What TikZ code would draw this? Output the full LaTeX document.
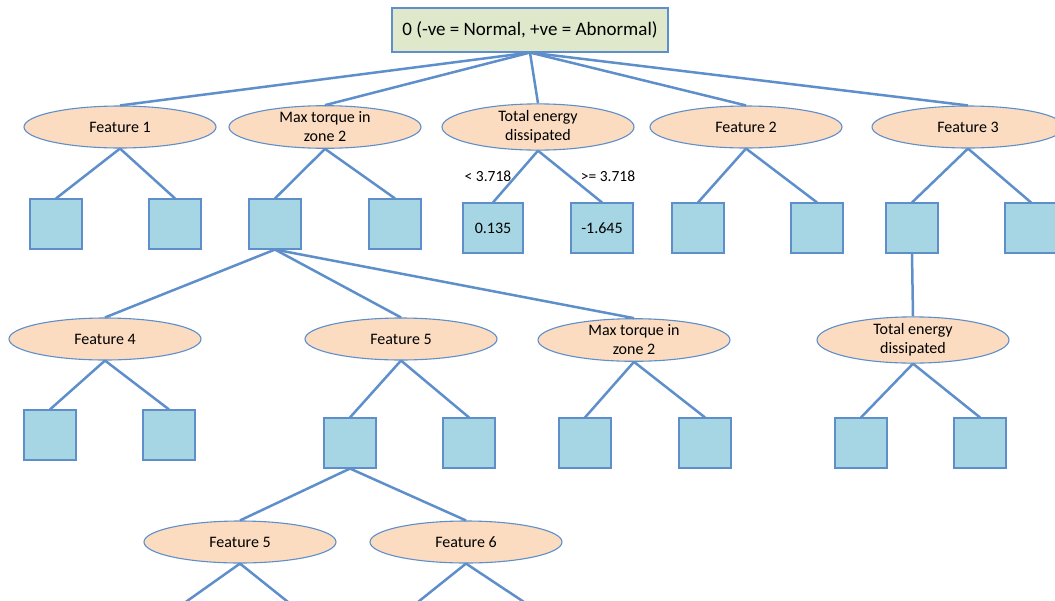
\documentclass[tikz,border=0pt]{standalone}
\usepackage{fontspec}
\setmainfont{Carlito}
\usetikzlibrary{shapes.geometric}
\definecolor{edgeblue}{HTML}{5E8FCB}
\definecolor{peach}{HTML}{FBDCC0}
\definecolor{leafblue}{HTML}{A6D6E3}
\definecolor{rootgreen}{HTML}{DFE8CB}
\tikzset{
    feat/.style={ellipse, draw=edgeblue, line width=1.1pt, fill=peach, minimum width=192pt, minimum height=42pt, inner sep=0pt, align=center, font=\fontsize{16}{19}\selectfont},
    leaf/.style={draw=edgeblue, line width=1.1pt, fill=leafblue, minimum width=52pt, minimum height=50pt, inner sep=0pt, font=\fontsize{16}{18}\selectfont},
    link/.style={edgeblue, line width=2.5pt}
}
\begin{document}
\begin{tikzpicture}[x=1pt,y=-1pt]
        \useasboundingbox (0,0) rectangle (1055,600);
        \clip (0,0) rectangle (1055,600);
        \node[draw=edgeblue, line width=1.1pt, fill=rootgreen, minimum width=276pt, minimum height=44pt, font=\fontsize{19}{21}\selectfont] at (530,30) (root) {0 (-ve = Normal, +ve = Abnormal)};

        \node[feat] at (120,127) (fa) {Feature 1};
        \node[feat] at (325,127) (mta) {Max torque in\\zone 2};
        \node[feat] at (538,127) (tea) {Total energy\\dissipated};
        \node[feat] at (746,127) (fb) {Feature 2};
        \node[feat] at (968,127) (fc) {Feature 3};

        \node[leaf] at (56,224) (fal) {};
        \node[leaf] at (175,224) (far) {};
        \node[leaf] at (275,224) (mtal) {};
        \node[leaf] at (395,224) (mtar) {};
        \node[leaf, minimum width=60pt] at (493,228) (teal) {0.135};
        \node[leaf, minimum width=62pt] at (602,228) (tear) {-1.645};
        \node[leaf] at (698,228) (fbl) {};
        \node[leaf] at (817,228) (fbr) {};
        \node[leaf] at (912,228) (fcl) {};
        \node[leaf] at (1031,228) (fcr) {};

        \node[font=\fontsize{15.5}{17}\selectfont] at (488,176) (lt) {< 3.718};
        \node[font=\fontsize{15.5}{17}\selectfont] at (608,176) (ge) {>= 3.718};

        \node[feat] at (105,339) (fd) {Feature 4};
        \node[feat] at (401,339) (fe) {Feature 5};
        \node[feat] at (634,340) (mtb) {Max torque in\\zone 2};
        \node[feat] at (913,340) (teb) {Total energy\\dissipated};

        \node[leaf] at (50,435) (fdl) {};
        \node[leaf] at (169,435) (fdr) {};
        \node[leaf] at (350,443) (fel) {};
        \node[leaf] at (469,443) (fer) {};
        \node[leaf] at (585,443) (mtbl) {};
        \node[leaf] at (705,443) (mtbr) {};
        \node[leaf] at (861,443) (tebl) {};
        \node[leaf] at (980,443) (tebr) {};

        \node[feat] at (240,542) (fee) {Feature 5};
        \node[feat] at (466,542) (ff) {Feature 6};

        \coordinate (eea) at (180,606);
        \coordinate (eeb) at (293,606);
        \coordinate (ffa) at (413,606);
        \coordinate (ffb) at (530,606);

        \draw[link] (root.south) -- (fa.north);
        \draw[link] (root.south) -- (mta.north);
        \draw[link] (root.south) -- (tea.north);
        \draw[link] (root.south) -- (fb.north);
        \draw[link] (root.south) -- (fc.north);

        \draw[link] (fa.south) -- (fal.north);
        \draw[link] (fa.south) -- (far.north);
        \draw[link] (mta.south) -- (mtal.north);
        \draw[link] (mta.south) -- (mtar.north);
        \draw[link] (tea.south) -- (teal.north);
        \draw[link] (tea.south) -- (tear.north);
        \draw[link] (fb.south) -- (fbl.north);
        \draw[link] (fb.south) -- (fbr.north);
        \draw[link] (fc.south) -- (fcl.north);
        \draw[link] (fc.south) -- (fcr.north);

        \draw[link] (mtal.south) -- (fd.north);
        \draw[link] (mtal.south) -- (fe.north);
        \draw[link] (mtal.south) -- (mtb.north);
        \draw[link] (fcl.south) -- (teb.north);

        \draw[link] (fd.south) -- (fdl.north);
        \draw[link] (fd.south) -- (fdr.north);
        \draw[link] (fe.south) -- (fel.north);
        \draw[link] (fe.south) -- (fer.north);
        \draw[link] (mtb.south) -- (mtbl.north);
        \draw[link] (mtb.south) -- (mtbr.north);
        \draw[link] (teb.south) -- (tebl.north);
        \draw[link] (teb.south) -- (tebr.north);

        \draw[link] (fel.south) -- (fee.north);
        \draw[link] (fel.south) -- (ff.north);
        \draw[link] (fee.south) -- (eea);
        \draw[link] (fee.south) -- (eeb);
        \draw[link] (ff.south) -- (ffa);
        \draw[link] (ff.south) -- (ffb);
    \end{tikzpicture}
\end{document}
